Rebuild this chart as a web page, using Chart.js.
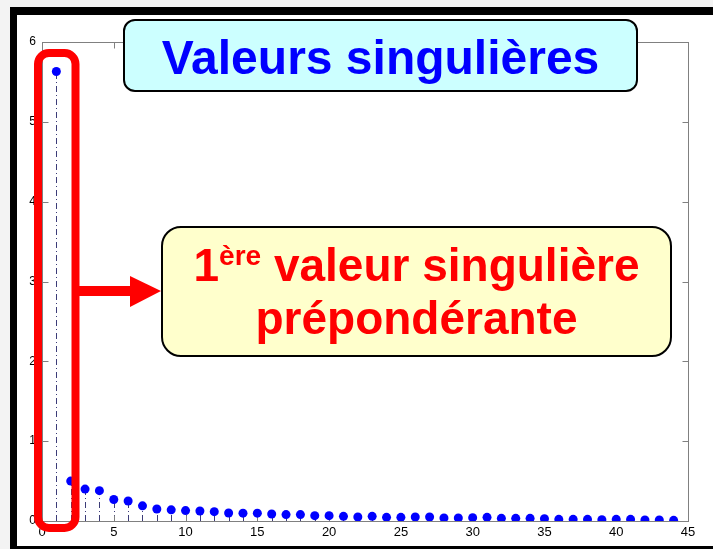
<!DOCTYPE html>
<html>
<head>
<meta charset="utf-8">
<script src="https://cdn.jsdelivr.net/npm/chart.js@4/dist/chart.umd.min.js"></script>
<style>
  html, body { margin: 0; padding: 0; }
  body { width: 713px; height: 549px; background: #f3f3f3; position: relative; overflow: hidden;
         font-family: "Liberation Sans", Arial, Helvetica, sans-serif; }
  #frame { position: absolute; left: 10px; top: 7px; width: 703px; height: 542px; box-sizing: border-box;
           border-top: 8px solid #000; border-left: 7px solid #000; border-bottom: 3px solid #000; background: #fff; }
  #wrap { position: absolute; left: 0; top: 0; width: 713px; height: 549px; }
  .box { position: absolute; box-sizing: border-box; border: 2px solid #000; }
  #title { left: 123px; top: 19px; width: 515px; height: 73px; background: #ccffff; border-radius: 12px; }
  #title div { position: absolute; left: 0; right: 0; top: 13px; text-align: center;
               font-weight: bold; font-size: 48px; line-height: 48px; color: #0000ff; white-space: nowrap; }
  #note { left: 161px; top: 226px; width: 511px; height: 131px; background: #ffffcc; border-radius: 20px; }
  #note div { position: absolute; left: 0; right: 0; top: 11px; text-align: center;
              font-weight: bold; font-size: 46px; line-height: 53px; color: #ff0000; white-space: nowrap; }
  #note sup { font-size: 28px; vertical-align: baseline; position: relative; top: -16px; line-height: 0; }
</style>
</head>
<body>
<div id="frame"></div>
<div id="wrap"><canvas id="c"></canvas></div>
<div class="box" id="title"><div>Valeurs singulières</div></div>
<div class="box" id="note"><div>1<sup>ère</sup> valeur singulière<br>prépondérante</div></div>
<script>
// ---- data ----
const indices = [1,2,3,4,5,6,7,8,9,10,11,12,13,14,15,16,17,18,19,20,21,22,
                 23,24,25,26,27,28,29,30,31,32,33,34,35,36,37,38,39,40,41,42,43,44];
const singularValues = [5.63,0.50,0.40,0.38,0.27,0.25,0.19,0.15,0.14,0.13,0.125,0.117,0.10,0.098,0.098,
                        0.088,0.08,0.08,0.067,0.067,0.058,0.05,0.058,0.046,0.046,0.05,0.05,0.038,0.038,
                        0.042,0.046,0.033,0.033,0.033,0.029,0.021,0.021,0.021,0.017,0.021,0.021,0.013,0.013,0.008];
const xTickValues = [0,5,10,15,20,25,30,35,40,45];
const yTickValues = [0,1,2,3,4,5,6];

const points = indices.map((x, i) => ({ x: x, y: singularValues[i] }));

const axisColor = '#808080';
const stemColor = '#3c3c78';
const markerColor = '#0000ff';

const stemsAndBox = {
  id: 'stemsAndBox',
  beforeDatasetsDraw(chart) {
    const ctx = chart.ctx, xs = chart.scales.x, ys = chart.scales.y, a = chart.chartArea;
    ctx.save();
    ctx.strokeStyle = stemColor;
    ctx.lineWidth = 1;
    ctx.setLineDash([6, 3, 1, 3]);
    const y0 = ys.getPixelForValue(0);
    for (let i = 0; i < indices.length; i++) {
      const px = Math.round(xs.getPixelForValue(indices[i])) + 0.5;
      const py = ys.getPixelForValue(singularValues[i]);
      ctx.beginPath();
      ctx.moveTo(px, y0);
      ctx.lineTo(px, py);
      ctx.stroke();
    }
    ctx.setLineDash([]);
    ctx.strokeStyle = axisColor;
    ctx.lineWidth = 1;
    const L = Math.round(a.left) + 0.5, R = Math.round(a.right) + 0.5;
    const T = Math.round(a.top) + 0.5, B = Math.round(a.bottom) + 0.5;
    ctx.strokeRect(L, T, R - L, B - T);
    const tl = 6;
    ctx.beginPath();
    xTickValues.forEach(v => {
      const px = Math.round(xs.getPixelForValue(v)) + 0.5;
      ctx.moveTo(px, B); ctx.lineTo(px, B - tl);
      ctx.moveTo(px, T); ctx.lineTo(px, T + tl);
    });
    yTickValues.forEach(v => {
      const py = Math.round(ys.getPixelForValue(v)) + 0.5;
      ctx.moveTo(L, py); ctx.lineTo(L + tl, py);
      ctx.moveTo(R, py); ctx.lineTo(R - tl, py);
    });
    ctx.stroke();
    ctx.restore();
  }
};

function roundRectPath(ctx, x, y, w, h, r) {
  ctx.beginPath();
  ctx.moveTo(x + r, y);
  ctx.lineTo(x + w - r, y);
  ctx.arcTo(x + w, y, x + w, y + r, r);
  ctx.lineTo(x + w, y + h - r);
  ctx.arcTo(x + w, y + h, x + w - r, y + h, r);
  ctx.lineTo(x + r, y + h);
  ctx.arcTo(x, y + h, x, y + h - r, r);
  ctx.lineTo(x, y + r);
  ctx.arcTo(x, y, x + r, y, r);
  ctx.closePath();
}

const highlight = {
  id: 'highlight',
  afterDraw(chart) {
    const ctx = chart.ctx;
    ctx.save();
    ctx.strokeStyle = '#ff0000';
    ctx.fillStyle = '#ff0000';
    ctx.lineWidth = 8;
    roundRectPath(ctx, 38, 53, 37.5, 475, 11);
    ctx.stroke();
    ctx.fillRect(79, 286, 52, 10);
    ctx.beginPath();
    ctx.moveTo(130, 276);
    ctx.lineTo(161, 291);
    ctx.lineTo(130, 307);
    ctx.closePath();
    ctx.fill();
    ctx.restore();
  }
};

new Chart(document.getElementById('c'), {
  type: 'scatter',
  data: {
    datasets: [{
      data: points,
      showLine: false,
      pointRadius: 4.5,
      pointHoverRadius: 4.5,
      pointBackgroundColor: markerColor,
      pointBorderColor: markerColor,
      pointBorderWidth: 0
    }]
  },
  options: {
    responsive: true,
    maintainAspectRatio: false,
    animation: false,
    events: [],
    layout: { padding: { left: 0, top: 42, right: 25, bottom: 0 } },
    plugins: { legend: { display: false }, tooltip: { enabled: false }, title: { display: false } },
    scales: {
      x: {
        type: 'linear', min: 0, max: 45,
        afterBuildTicks: s => { s.ticks = xTickValues.map(v => ({ value: v })); },
        afterFit: s => { s.height = 28; },
        grid: { display: false, drawTicks: false },
        border: { display: false },
        ticks: { padding: 4, color: '#000', maxRotation: 0, autoSkip: false,
                 font: { family: "'Liberation Sans', Arial, sans-serif", size: 13 } }
      },
      y: {
        type: 'linear', min: 0, max: 6,
        afterBuildTicks: s => { s.ticks = yTickValues.map(v => ({ value: v })); },
        afterFit: s => { s.width = 42; },
        grid: { display: false, drawTicks: false },
        border: { display: false },
        ticks: { padding: 6, color: '#000', autoSkip: false,
                 font: { family: "'Liberation Sans', Arial, sans-serif", size: 12 } }
      }
    }
  },
  plugins: [stemsAndBox, highlight]
});
</script>
</body>
</html>
